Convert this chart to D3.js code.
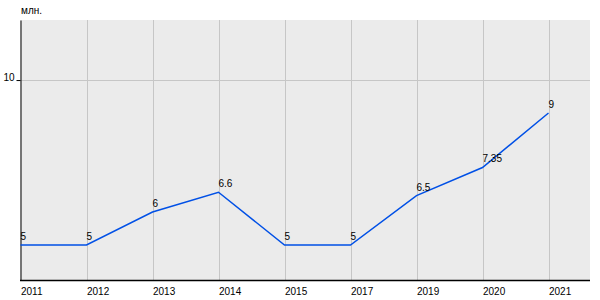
<!DOCTYPE html>
<html>
<head>
<meta charset="utf-8">
<script src="https://cdn.jsdelivr.net/npm/d3@7"></script>
<style>
  body { margin: 0; background: #fff; }
  text { font-family: "Liberation Sans", Arial, sans-serif; }
</style>
</head>
<body>
<div id="chart"></div>
<script>
var years = ["2011", "2012", "2013", "2014", "2015", "2017", "2019", "2020", "2021"];
var values = [5, 5, 6, 6.6, 5, 5, 6.5, 7.35, 9];
var valueLabels = ["5", "5", "6", "6.6", "5", "5", "6.5", "7.35", "9"];
var yTicks = [10];
var unitLabel = "млн.";

var margin = { top: 20, right: 10, bottom: 20, left: 20 },
    width = 600 - margin.left - margin.right,
    height = 300 - margin.top - margin.bottom;

var svg = d3.select("#chart")
    .append("svg")
    .attr("width", 600)
    .attr("height", 300);

var g = svg.append("g")
    .attr("transform", "translate(" + margin.left + "," + margin.top + ")");

// points sit 66px apart, leaving a gap at the right of the plot
var x = d3.scalePoint()
    .domain(years)
    .range([0.5, 528.5]);

var y = d3.scaleLinear()
    .domain([3.94, 11.82])
    .range([height, 0]);

g.append("rect")
    .attr("width", width)
    .attr("height", height)
    .style("fill", "#ebebeb");

// vertical grid
g.selectAll(".vgrid")
    .data(years.slice(1))
    .enter()
    .append("line")
    .attr("x1", d => Math.round(x(d)) + 0.5)
    .attr("x2", d => Math.round(x(d)) + 0.5)
    .attr("y1", 0)
    .attr("y2", height)
    .style("stroke", "#c6c6c6")
    .style("stroke-width", 1);

// horizontal grid
g.selectAll(".hgrid")
    .data(yTicks)
    .enter()
    .append("line")
    .attr("x1", 0)
    .attr("x2", width)
    .attr("y1", d => Math.round(y(d)) + 0.5)
    .attr("y2", d => Math.round(y(d)) + 0.5)
    .style("stroke", "#c6c6c6")
    .style("stroke-width", 1);

var yAxis = g.append("g")
    .attr("transform", "translate(0.5,0)")
    .call(d3.axisLeft(y).tickValues(yTicks).tickSize(4).tickSizeOuter(0).tickPadding(2));
yAxis.select(".domain").style("stroke", "#000");
yAxis.selectAll(".tick line").style("stroke", "#000");
yAxis.selectAll(".tick text")
    .style("font-size", "10px")
    .style("fill", "#000")
    .attr("dy", "0");

var xAxis = g.append("g")
    .attr("transform", "translate(0," + (height + 0.5) + ")")
    .call(d3.axisBottom(x).tickSize(0).tickSizeOuter(0).tickPadding(0));
xAxis.select(".domain").attr("d", "M0,0H" + width).style("stroke", "#000").style("stroke-width", 1.5);
xAxis.selectAll(".tick text")
    .attr("text-anchor", "start")
    .attr("y", 14)
    .attr("dy", "0")
    .style("font-size", "10px")
    .style("fill", "#000");

var line = d3.line()
    .x((d, i) => x(years[i]))
    .y(d => y(d));

g.append("path")
    .datum(values)
    .attr("d", line)
    .style("fill", "none")
    .style("stroke", "#0050e6")
    .style("stroke-width", 1.5);

g.selectAll(".vlabel")
    .data(values)
    .enter()
    .append("text")
    .attr("x", (d, i) => x(years[i]))
    .attr("y", d => y(d) - 5)
    .text((d, i) => valueLabels[i])
    .style("font-size", "10px")
    .style("fill", "#000");

svg.append("text")
    .attr("x", 21)
    .attr("y", 14)
    .text(unitLabel)
    .style("font-size", "10px")
    .style("fill", "#000");
</script>
</body>
</html>
